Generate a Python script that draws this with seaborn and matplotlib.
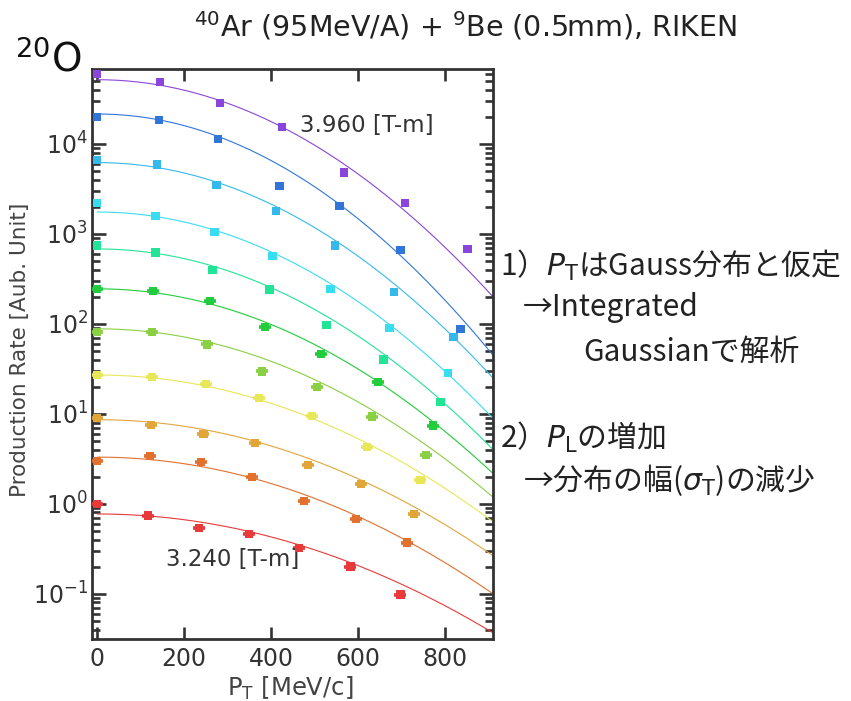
import numpy as np
import pandas as pd
import matplotlib
matplotlib.use("Agg")
import matplotlib.pyplot as plt
import seaborn as sns
from matplotlib.ticker import LogLocator, FixedLocator, NullFormatter, LogFormatterSciNotation

# ---------------- data ----------------
series = ["s01", "s02", "s03", "s04", "s05", "s06", "s07", "s08", "s09", "s10", "s11"]
colors = ["#8A45DC", "#3175DA", "#35B9EC", "#38DDF0", "#22E496", "#22CC3C",
          "#8ACF44", "#E8E659", "#E2A53A", "#E2702F", "#E83A3A"]

pt_s01 = [0, 145, 283, 425, 568, 708, 851]
rate_s01 = [60000, 49000, 28500, 15400, 4800, 2200, 680]
pt_s02 = [0, 142, 278, 419, 557, 697, 835]
rate_s02 = [20000, 18500, 11400, 3400, 2050, 660, 87]
pt_s03 = [0, 138, 274, 411, 547, 683, 819]
rate_s03 = [6600, 5900, 3500, 1800, 740, 225, 72]
pt_s04 = [0, 134, 270, 403, 536, 672, 807]
rate_s04 = [2200, 1580, 1050, 570, 245, 90, 28.5]
pt_s05 = [0, 134, 265, 396, 527, 658, 789]
rate_s05 = [740, 620, 400, 240, 97, 40, 13.5]
pt_s06 = [0, 129, 260, 386, 515, 646, 772]
rate_s06 = [245, 232, 180, 93, 46, 22.6, 7.4]
pt_s07 = [0, 126, 253, 379, 506, 632, 756]
rate_s07 = [81, 81, 59, 29.6, 20, 9.3, 3.5]
pt_s08 = [0, 126, 250, 372, 494, 620, 743]
rate_s08 = [27, 25.7, 21.5, 15, 9.5, 4.3, 1.85]
pt_s09 = [0, 124, 244, 363, 485, 607, 729]
rate_s09 = [9.0, 7.5, 6.0, 4.75, 2.7, 1.67, 0.77]
pt_s10 = [0, 122, 239, 356, 476, 595, 713]
rate_s10 = [3.0, 3.4, 2.9, 2.0, 1.08, 0.68, 0.37]
pt_s11 = [0, 117, 234, 349, 464, 582, 697]
rate_s11 = [1.0, 0.74, 0.54, 0.46, 0.32, 0.20, 0.098]

# horizontal error (MeV/c) per series (visible only on lower ones)
pt_err = [0, 0, 0, 0, 0, 14, 14, 14, 14, 14, 14]

# Gaussian fit parameters
fit_amp = [51700, 21500, 6200, 1750, 680, 245, 88, 27, 8.6, 3.3, 0.77]
fit_sigma = [273, 259, 274, 280, 284, 296, 310, 332, 345, 344, 369]
fit_pt_max = 910

x_ticks = [0, 200, 400, 600, 800]
y_ticks = [1e-1, 1e0, 1e1, 1e2, 1e3, 1e4]

pts = [pt_s01, pt_s02, pt_s03, pt_s04, pt_s05, pt_s06, pt_s07, pt_s08, pt_s09, pt_s10, pt_s11]
rates = [rate_s01, rate_s02, rate_s03, rate_s04, rate_s05, rate_s06, rate_s07, rate_s08,
         rate_s09, rate_s10, rate_s11]

rows = []
for name, px, ry in zip(series, pts, rates):
    for a, b in zip(px, ry):
        rows.append((name, a, b))
df = pd.DataFrame(rows, columns=["series", "pt", "rate"])

crow = []
xs = np.linspace(0, fit_pt_max, 200)
for name, A, s in zip(series, fit_amp, fit_sigma):
    for x in xs:
        crow.append((name, x, A * np.exp(-x**2 / (2 * s**2))))
cdf = pd.DataFrame(crow, columns=["series", "pt", "rate"])

# ---------------- style ----------------
sns.set_theme(style="ticks")
plt.rcParams['font.family'] = ['DejaVu Sans']
JP = ['Noto Sans CJK JP', 'DejaVu Sans']
dark = "#333333"

fig = plt.figure(figsize=(8.51, 7.01), dpi=100)
ax = fig.add_axes([92 / 851, 1 - 639 / 701, (493 - 92) / 851, (639 - 69) / 701])

pal = dict(zip(series, colors))
sns.lineplot(data=cdf, x="pt", y="rate", hue="series", palette=pal, linewidth=0.8,
             estimator=None, sort=False, legend=False, ax=ax, zorder=2)

for name, px, ry, e, c in zip(series, pts, rates, pt_err, colors):
    if e > 0:
        ax.errorbar(px, ry, xerr=e, fmt="none", ecolor=c, elinewidth=2.6, capsize=0, zorder=3)

sns.scatterplot(data=df, x="pt", y="rate", hue="series", palette=pal, marker="s", s=36,
                edgecolor="none", linewidth=0, legend=False, ax=ax, zorder=4)

ax.set_yscale("log")
ax.set_xlim(-12, 910)
ax.set_ylim(0.0314, 68000)

ax.xaxis.set_major_locator(FixedLocator(x_ticks))
ax.set_xticklabels([str(v) for v in x_ticks])
ax.yaxis.set_major_locator(FixedLocator(y_ticks))
ax.yaxis.set_major_formatter(LogFormatterSciNotation())
ax.yaxis.set_minor_locator(LogLocator(base=10, subs=np.arange(2, 10), numticks=30))
ax.yaxis.set_minor_formatter(NullFormatter())
ax.xaxis.set_minor_locator(FixedLocator([]))

ax.tick_params(axis="both", which="both", direction="in", top=True, right=True,
               color=dark, labelcolor=dark, width=1.9)
ax.tick_params(axis="x", which="major", length=8.6, labelsize=17, pad=6)
ax.tick_params(axis="y", which="major", length=10, labelsize=17, pad=3)
ax.tick_params(axis="y", which="minor", length=5.5)
for sp in ax.spines.values():
    sp.set_color(dark)
    sp.set_linewidth(2.0)

ax.set_xlabel("")
ax.set_ylabel("")

fig.text(20 / 851, 1 - 350 / 701, "Production Rate [Aub. Unit]", rotation=90,
         ha="center", va="center", fontsize=15.5, color="#444444")
fig.text(290 / 851, 1 - 688 / 701, r"P$_\mathrm{T}$ [MeV/c]", ha="center", va="center",
         fontsize=17.5, color="#444444")

fig.text(465 / 851, 1 - 26 / 701, r"$^{40}$Ar (95MeV/A) + $^{9}$Be (0.5mm), RIKEN",
         ha="center", va="center", fontsize=20.5, color="#222222")
fig.text(15 / 851, 1 - 60 / 701, r"$^{20}$O", ha="left", va="center", fontsize=28,
         color="#111111")

ax.text(467, 16200, "3.960 [T-m]", ha="left", va="center", fontsize=16.5, color=dark)
ax.text(159, 0.239, "3.240 [T-m]", ha="left", va="center", fontsize=16.5, color=dark)

tcol = "#222222"
fs = 21.5
fig.text(500 / 851, 1 - 265 / 701, r"1）$P_\mathrm{T}$はGauss分布と仮定", ha="left", va="center",
         fontsize=fs, color=tcol, family=JP)
fig.text(523 / 851, 1 - 308 / 701, "→Integrated", ha="left", va="center", fontsize=fs,
         color=tcol, family=JP)
fig.text(583 / 851, 1 - 352 / 701, "Gaussianで解析", ha="left", va="center", fontsize=fs,
         color=tcol, family=JP)
fig.text(500 / 851, 1 - 437 / 701, r"2）$P_\mathrm{L}$の増加", ha="left", va="center",
         fontsize=fs, color=tcol, family=JP)
fig.text(523 / 851, 1 - 480 / 701, r"→分布の幅($\sigma_\mathrm{T}$)の減少", ha="left", va="center",
         fontsize=fs, color=tcol, family=JP)

fig.savefig("out.png", dpi=100)
